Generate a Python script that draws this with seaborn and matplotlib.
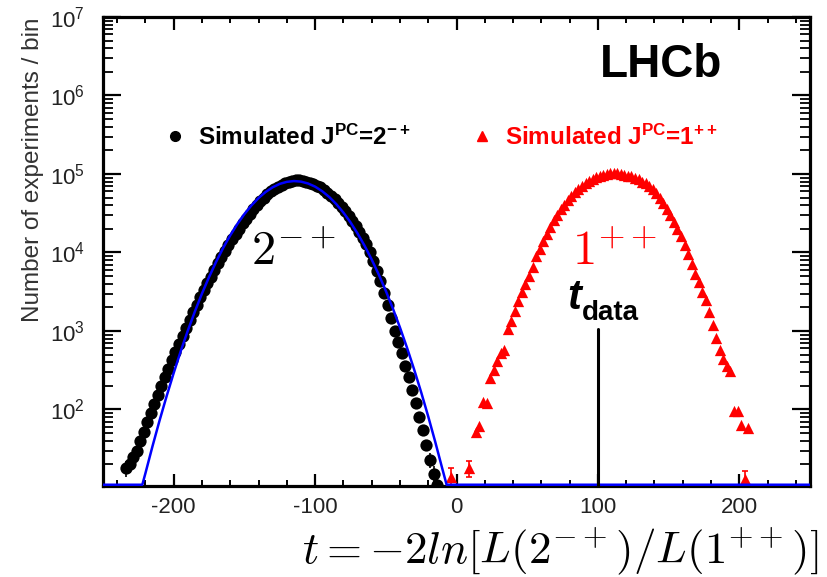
import numpy as np
import pandas as pd
import matplotlib
matplotlib.use("Agg")
import matplotlib.pyplot as plt
import seaborn as sns
from matplotlib.ticker import (LogLocator, MultipleLocator, NullFormatter, LogFormatterMathtext,
                               FixedLocator)
from matplotlib.lines import Line2D

# ---------------- data ----------------
# simulated J^PC = 2^-+ (black circles), bin centres and entries
t_2mp = [-233.75, -231.25, -228.75, -226.25, -223.75, -221.25, -218.75, -216.25, -213.75, -211.25,
         -208.75, -206.25, -203.75, -201.25, -198.75, -196.25, -193.75, -191.25, -188.75, -186.25,
         -183.75, -181.25, -178.75, -176.25, -173.75, -171.25, -168.75, -166.25, -163.75, -161.25,
         -158.75, -156.25, -153.75, -151.25, -148.75, -146.25, -143.75, -141.25, -138.75, -136.25,
         -133.75, -131.25, -128.75, -126.25, -123.75, -121.25, -118.75, -116.25, -113.75,
         -111.25, -108.75, -106.25, -103.75, -101.25, -98.75, -96.25, -93.75, -91.25, -88.75,
         -86.25, -83.75, -81.25, -78.75, -76.25, -73.75, -71.25, -68.75, -66.25, -63.75,
         -61.25, -58.75, -56.25, -53.75, -51.25, -48.75, -46.25, -43.75, -41.25, -38.75,
         -36.25, -33.75, -31.25, -28.75, -26.25, -23.75, -21.25, -18.75, -16.25, -13.75]
n_2mp = [18, 20, 25, 30, 40, 52, 69, 91, 117, 155,
         200, 257, 331, 427, 537, 692, 871, 1096, 1380, 1738,
         2138, 2692, 3311, 4074, 4898, 6026, 7244, 8710, 10470, 12300,
         14790, 16980, 19950, 23440, 26920, 30900, 35480, 39810, 44670, 50120,
         54950, 60260, 64570, 69180, 72440, 75860, 79430, 81280, 83180,
         83180, 81280, 79430, 77620, 74130, 70790, 67610, 63100, 57540, 52480,
         47860, 42660, 38020, 33880, 29510, 25120, 21880, 18200, 15490, 12880,
         10230, 7762, 5888, 4365, 3090, 2138, 1445, 1000, 724, 525,
         363, 257, 178, 120, 81, 54, 35, 23, 15, 11]

# simulated J^PC = 1^++ (red triangles)
t_1pp = [-3.75, 8.75, 13.75, 16.25, 18.75, 21.25, 23.75, 26.25, 28.75, 31.25,
         33.75, 36.25, 38.75, 41.25, 43.75, 46.25, 48.75, 51.25,
         53.75, 56.25, 58.75, 61.25, 63.75, 66.25, 68.75, 71.25, 73.75, 76.25,
         78.75, 81.25, 83.75, 86.25, 88.75, 91.25, 93.75, 96.25, 98.75, 101.25,
         103.75, 106.25, 108.75, 111.25, 113.75, 116.25, 118.75, 121.25, 123.75, 126.25,
         128.75, 131.25, 133.75, 136.25, 138.75, 141.25, 143.75, 146.25, 148.75, 151.25,
         153.75, 156.25, 158.75, 161.25, 163.75, 166.25, 168.75, 171.25, 173.75, 176.25,
         178.75, 181.25, 183.75, 186.25, 188.75, 191.25, 193.75, 196.25, 198.75, 201.25,
         203.75, 206.25]
n_1pp = [14, 18, 52, 62, 126, 120, 251, 316, 417, 525,
         575, 1047, 1349, 1778, 2399, 3162, 3981, 5012,
         6607, 8913, 11220, 14130, 17380, 20890, 25700, 30200, 35480, 40740,
         46770, 52480, 58880, 64570, 70790, 75860, 81280, 87100, 91200, 95500,
         97720, 100000, 102300, 102300, 102300, 100000, 97720, 95500, 93330, 89130,
         85110, 79430, 75860, 70790, 64570, 57540, 50120, 42660, 36310, 30200,
         24550, 19950, 16220, 12590, 9550, 7079, 5370, 4169, 3162, 2455,
         1738, 1202, 813, 575, 437, 363, 309, 95, 95, 63,
         13, 58]

# Gaussian fit to the 2^-+ distribution (blue curve)
fit_t = [-250, -222.2, -220, -215, -210, -205, -200, -195, -190, -185, -180, -175, -170, -165,
         -160, -155, -150, -145, -140, -135, -130, -125, -120, -115, -110, -105, -100,
         -95, -90, -85, -80, -75, -70, -65, -60, -55, -50, -45, -40, -35, -30, -25,
         -20, -15, -10, -7.0, 250]
fit_n = [11, 11, 15.4, 34.0, 72.4, 148, 292, 555, 1012, 1774, 3000, 4864, 7603, 11460,
         16560, 23070, 30900, 39810, 49430, 59020, 67760, 74820, 79430, 81280, 79980, 75680, 69020,
         60400, 50930, 41300, 32280, 24270, 17500, 12190, 8147, 5248, 3251, 1936, 1109, 612, 325, 166,
         81.5, 38.5, 17.5, 11, 11]

t_data = 100.0
t_data_top = 1070

x_major = [-200, -100, 0, 100, 200]
y_major = [1e2, 1e3, 1e4, 1e5, 1e6, 1e7]

df_b = pd.DataFrame({"t": t_2mp, "n": n_2mp})
df_r = pd.DataFrame({"t": t_1pp, "n": n_1pp})
df_f = pd.DataFrame({"t": fit_t, "n": fit_n})

# ---------------- style ----------------
sns.set_theme(style="ticks")
plt.rcParams["font.family"] = ["Liberation Sans", "DejaVu Sans"]
plt.rcParams["mathtext.fontset"] = "custom"
plt.rcParams["mathtext.rm"] = "Liberation Sans"
plt.rcParams["mathtext.bf"] = "Liberation Sans:bold"
plt.rcParams["mathtext.it"] = "Liberation Sans:italic"
plt.rcParams["mathtext.default"] = "it"
plt.rcParams["axes.unicode_minus"] = False

W, H = 827, 577
fig = plt.figure(figsize=(W / 100, H / 100), dpi=100)
ax = fig.add_axes([103 / W, 1 - 486 / H, (810 - 103) / W, (486 - 17) / H])

YLO = 10.6
ax.set_yscale("log")
ax.set_xlim(-250, 250)
ax.set_ylim(YLO, 1e7)

# error bars (Poisson) -- only drawn where they stick out of the marker
eb_b = df_b[df_b["n"] < 30]
eb_r = df_r[df_r["n"] < 30]
ax.errorbar(eb_b["t"], eb_b["n"], yerr=np.sqrt(eb_b["n"]), fmt="none", ecolor="black",
            elinewidth=1.2, capsize=0, zorder=2)
ax.errorbar(eb_r["t"], eb_r["n"], yerr=np.sqrt(eb_r["n"]), fmt="none", ecolor="red",
            elinewidth=1.2, capsize=2.2, capthick=1.2, zorder=2)
sns.scatterplot(data=df_b, x="t", y="n", ax=ax, marker="o", s=78, color="black",
                linewidth=0, zorder=3, legend=False)
sns.scatterplot(data=df_r, x="t", y="n", ax=ax, marker="^", s=66, color="red",
                linewidth=0, zorder=3, legend=False)
sns.lineplot(data=df_f, x="t", y="n", ax=ax, color="#0000ff", linewidth=1.8, zorder=4,
             estimator=None, sort=False)

# t_data line
ax.plot([t_data, t_data], [YLO, t_data_top], color="black", linewidth=2.2, zorder=5)

# axes styling
for sp in ax.spines.values():
    sp.set_linewidth(2.3)
    sp.set_color("black")
    sp.set_visible(True)
ax.xaxis.set_major_locator(FixedLocator(x_major))
ax.xaxis.set_minor_locator(MultipleLocator(20))
ax.yaxis.set_major_locator(FixedLocator(y_major))
ax.yaxis.set_minor_locator(LogLocator(base=10, subs=np.arange(2, 10), numticks=20))
ax.yaxis.set_major_formatter(LogFormatterMathtext())
ax.yaxis.set_minor_formatter(NullFormatter())
ax.tick_params(which="both", direction="in", top=True, right=True, colors="black",
               labelcolor="#222222")
ax.tick_params(axis="x", which="major", length=9, width=1.6, labelsize=16, pad=8)
ax.tick_params(axis="x", which="minor", length=4.5, width=1.4)
ax.tick_params(axis="y", which="major", length=13, width=1.6, labelsize=16, pad=13)
ax.tick_params(axis="y", which="minor", length=7, width=1.3)
ax.set_xlabel("")
ax.set_ylabel("Number of experiments / bin", fontsize=17.5, color="#333333")
ax.yaxis.set_label_coords(-0.083, (486 - 170) / 469)
ax.grid(False)

# legend
handles = [Line2D([], [], linestyle="none", marker="o", markersize=7, color="black"),
           Line2D([], [], linestyle="none", marker="^", markersize=7, color="red")]
labels = [r"Simulated J$^{\mathbf{PC}}$=2$^{\mathbf{-+}}$",
          r"Simulated J$^{\mathbf{PC}}$=1$^{\mathbf{++}}$"]
leg = ax.legend(handles, labels, ncol=2, loc="center left",
                bbox_to_anchor=((163 - 103) / 707, (486 - 137) / 469),
                frameon=False, borderpad=0, borderaxespad=0, handlelength=1.0,
                handletextpad=0.45, columnspacing=2.45,
                prop={"weight": "bold", "size": 17.5})
for txt, c in zip(leg.get_texts(), ["black", "red"]):
    txt.set_color(c)

# LHCb
ax.text((722 - 103) / 707, (486 - 77) / 469, "LHCb", transform=ax.transAxes,
        ha="right", va="baseline", fontsize=33, fontweight="bold", color="black")

# hypothesis labels (LaTeX style)
ax.text(-145.4, 7020, r"$\mathrm{2}^{-+}$", ha="left", va="baseline", fontsize=35,
        color="black", math_fontfamily="cm", zorder=6)
ax.text(81.6, 7020, r"$\mathrm{1}^{++}$", ha="left", va="baseline", fontsize=35,
        color="red", math_fontfamily="cm", zorder=6)

# t_data label
ax.text(78.5, 1914, "t", ha="left", va="baseline", fontsize=30, fontweight="bold",
        fontstyle="italic", color="black", zorder=6)
ax.text(88.7, 1384, "data", ha="left", va="baseline", fontsize=20, fontweight="bold",
        color="black", zorder=6)

# x-axis label
fig.text(818 / W, 1 - 563 / H,
         r"$t = -\mathrm{2}ln[L(\mathrm{2}^{-+})/L(\mathrm{1}^{++})]$",
         ha="right", va="baseline", fontsize=32.5, color="black", math_fontfamily="cm")

fig.savefig("out.png", dpi=100)
